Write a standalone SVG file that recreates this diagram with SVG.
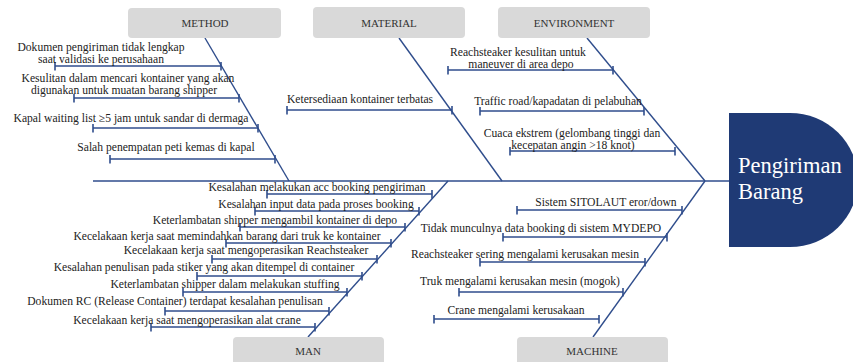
<svg xmlns="http://www.w3.org/2000/svg" width="853" height="362" viewBox="0 0 853 362">
<defs>
<style>
.bone{stroke:#2f4d8c;stroke-width:1.4;fill:none}
.sub{stroke:#2f4d8c;stroke-width:1.6;fill:none;marker-start:url(#tick);marker-end:url(#tick)}
.box{fill:#d9d9d9}
.cat{font-size:11px;fill:#333;text-anchor:middle}
.t{font-size:11.6px;fill:#222;text-anchor:middle}
.head{font-size:22.5px;fill:#ffffff}
</style>
<marker id="tick" markerUnits="userSpaceOnUse" markerWidth="3" markerHeight="9" refX="1.5" refY="4.5" orient="0">
<path d="M1.5,0 V9" stroke="#2f4d8c" stroke-width="1.6"/>
</marker>
</defs>
<rect width="853" height="362" fill="#ffffff"/>

<g id="connectors">
<line class="bone" x1="93" y1="181" x2="729" y2="181"/>
<line class="bone" x1="205" y1="38" x2="289" y2="181"/>
<line class="bone" x1="399" y1="38" x2="502" y2="181"/>
<line class="bone" x1="587" y1="38" x2="705" y2="181"/>
<line class="bone" x1="448" y1="181" x2="308" y2="337"/>
<line class="bone" x1="705" y1="181" x2="593" y2="337"/>
</g>

<g font-family="'Liberation Serif', 'Times New Roman', 'DejaVu Serif', serif">
<g id="head">
<path d="M729,113 H790 A68,67 0 0 1 790,247 H729 Z" fill="#1f3a75"/>
<text class="head" x="738" y="173">Pengiriman</text>
<text class="head" x="738" y="199">Barang</text>
</g>

<g id="method">
<rect class="box" x="128" y="8" width="153" height="30" rx="4"/>
<text class="cat" x="205" y="27">METHOD</text>
<line class="sub" x1="55" y1="66" x2="221" y2="66"/>
<text class="t" x="101" y="51">Dokumen pengiriman tidak lengkap</text>
<text class="t" x="101" y="63">saat validasi ke perusahaan</text>
<line class="sub" x1="74" y1="98" x2="239" y2="98"/>
<text class="t" x="128" y="82">Kesulitan dalam mencari kontainer yang akan</text>
<text class="t" x="124" y="94">digunakan untuk muatan barang shipper</text>
<line class="sub" x1="93" y1="128" x2="258" y2="128"/>
<text class="t" x="131" y="122">Kapal waiting list ≥5 jam untuk sandar di dermaga</text>
<line class="sub" x1="110" y1="159" x2="275" y2="159"/>
<text class="t" x="166" y="151">Salah penempatan peti kemas di kapal</text>
</g>

<g id="material">
<rect class="box" x="313" y="7" width="152" height="31" rx="4"/>
<text class="cat" x="389" y="27">MATERIAL</text>
<line class="sub" x1="287" y1="110" x2="452" y2="110"/>
<text class="t" x="360" y="103">Ketersediaan kontainer terbatas</text>
</g>

<g id="environment">
<rect class="box" x="498" y="7" width="152" height="31" rx="4"/>
<text class="cat" x="574" y="27">ENVIRONMENT</text>
<line class="sub" x1="448" y1="70" x2="613" y2="70"/>
<text class="t" x="518" y="56">Reachsteaker kesulitan untuk</text>
<text class="t" x="521" y="68">maneuver di area depo</text>
<line class="sub" x1="480" y1="111" x2="644" y2="111"/>
<text class="t" x="558" y="105">Traffic road/kapadatan di pelabuhan</text>
<line class="sub" x1="510" y1="151" x2="675" y2="151"/>
<text class="t" x="572" y="137">Cuaca ekstrem (gelombang tinggi dan</text>
<text class="t" x="573" y="149">kecepatan angin &gt;18 knot)</text>
</g>

<g id="man">
<rect class="box" x="233" y="337" width="151" height="30" rx="4"/>
<text class="cat" x="308" y="355">MAN</text>
<line class="sub" x1="267" y1="194" x2="432" y2="194"/>
<text class="t" x="317" y="191">Kesalahan melakukan acc booking pengiriman</text>
<line class="sub" x1="255" y1="211" x2="419" y2="211"/>
<text class="t" x="316" y="208">Kesalahan input data pada proses booking</text>
<line class="sub" x1="240" y1="227" x2="405" y2="227"/>
<text class="t" x="275" y="224">Keterlambatan shipper mengambil kontainer di depo</text>
<line class="sub" x1="226" y1="243" x2="391" y2="243"/>
<text class="t" x="227" y="240">Kecelakaan kerja saat memindahkan barang dari truk ke kontainer</text>
<line class="sub" x1="212" y1="259" x2="377" y2="259"/>
<text class="t" x="246" y="254">Kecelakaan kerja saat mengoperasikan Reachsteaker</text>
<line class="sub" x1="197" y1="276" x2="362" y2="276"/>
<text class="t" x="204" y="271">Kesalahan penulisan pada stiker yang akan ditempel di container</text>
<line class="sub" x1="183" y1="292" x2="347" y2="292"/>
<text class="t" x="225" y="288">Keterlambatan shipper dalam melakukan stuffing</text>
<line class="sub" x1="165" y1="311" x2="329" y2="311"/>
<text class="t" x="175" y="305">Dokumen RC (Release Container) terdapat kesalahan penulisan</text>
<line class="sub" x1="151" y1="327" x2="315" y2="327"/>
<text class="t" x="187" y="324">Kecelakaan kerja saat mengoperasikan alat crane</text>
</g>

<g id="machine">
<rect class="box" x="517" y="337" width="151" height="30" rx="4"/>
<text class="cat" x="592" y="355">MACHINE</text>
<line class="sub" x1="517" y1="210" x2="682" y2="210"/>
<text class="t" x="606" y="206">Sistem SITOLAUT eror/down</text>
<line class="sub" x1="503" y1="237" x2="667" y2="237"/>
<text class="t" x="541" y="232">Tidak munculnya data booking di sistem MYDEPO</text>
<line class="sub" x1="480" y1="262" x2="645" y2="262"/>
<text class="t" x="525" y="258">Reachsteaker sering mengalami kerusakan mesin</text>
<line class="sub" x1="459" y1="292" x2="623" y2="292"/>
<text class="t" x="520" y="285">Truk mengalami kerusakan mesin (mogok)</text>
<line class="sub" x1="434" y1="319" x2="599" y2="319"/>
<text class="t" x="516" y="314">Crane mengalami kerusakaan</text>
</g>
</g>
</svg>
